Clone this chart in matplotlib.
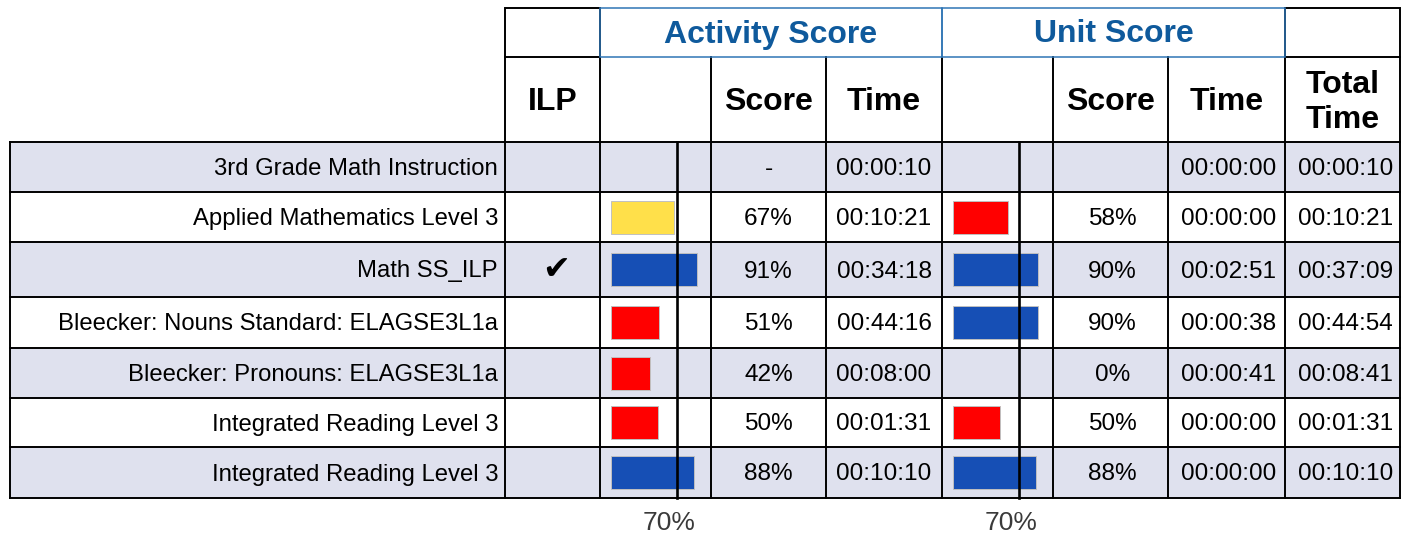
import matplotlib.pyplot as plt
from matplotlib.patches import Rectangle

plt.rcParams['font.family'] = ['Liberation Sans', 'DejaVu Sans']

# table data
names = ["3rd Grade Math Instruction", "Applied Mathematics Level 3", "Math SS_ILP",
         "Bleecker: Nouns Standard: ELAGSE3L1a", "Bleecker: Pronouns: ELAGSE3L1a",
         "Integrated Reading Level 3", "Integrated Reading Level 3"]
ilp = [False, False, True, False, False, False, False]
act_score = [None, 67, 91, 51, 42, 50, 88]
act_time = ["00:00:10", "00:10:21", "00:34:18", "00:44:16", "00:08:00", "00:01:31", "00:10:10"]
unit_score = [None, 58, 90, 90, 0, 50, 88]
unit_time = ["00:00:00", "00:00:00", "00:02:51", "00:00:38", "00:00:41", "00:00:00", "00:00:00"]
total_time = ["00:00:10", "00:10:21", "00:37:09", "00:44:54", "00:08:41", "00:01:31", "00:10:10"]
target = 70

# layout (pixels)
cols = [10, 505, 600, 711, 826, 942, 1053, 1168, 1285, 1400]
rows = [142, 192, 242, 297, 348, 398, 447, 498]
top, mid = 8, 57
px_per_pct = 0.94
shade = '#DFE1EE'
blue_txt = '#0F5A9C'
blue_line = '#2F75B5'
lw = 1.4
fs_name, fs_num, fs_head = 17.2, 17.6, 23


def bar_color(v):
    if v < 60:
        return '#FF0000'
    if v < 70:
        return '#FFE04A'
    return '#164FB5'


fig = plt.figure(figsize=(14.11, 5.35), dpi=100)
ax = fig.add_axes([0, 0, 1, 1])
ax.set_xlim(0, 1411)
ax.set_ylim(535, 0)
ax.axis('off')

# row shading
for i in range(len(names)):
    if i % 2 == 0:
        ax.add_patch(Rectangle((cols[0], rows[i]), cols[-1] - cols[0], rows[i + 1] - rows[i],
                               facecolor=shade, edgecolor='none', zorder=0))

# bars
centers = [(rows[i] + rows[i + 1]) / 2 for i in range(len(names))]
for start, scores in [(cols[2] + 11, act_score), (cols[5] + 11, unit_score)]:
    for yc, v in zip(centers, scores):
        if v:
            ax.barh(yc, v * px_per_pct, left=start, height=33, color=bar_color(v),
                    edgecolor='#C0C0C0', linewidth=0.7, zorder=2)
    xt = start + target * px_per_pct
    ax.plot([xt, xt], [rows[0], rows[-1]], color='black', lw=1.9, zorder=4)
    ax.text(xt - 8, 523, f"{target}%", ha='center', va='center', fontsize=19, color='#3A3A3A')

# grid lines of data rows
for y in rows:
    ax.plot([cols[0], cols[-1]], [y, y], color='black', lw=lw, zorder=3)
for x in cols:
    ax.plot([x, x], [rows[0], rows[-1]], color='black', lw=lw, zorder=3)
# header row 2
for x in cols[1:]:
    ax.plot([x, x], [mid, rows[0]], color='black', lw=lw, zorder=3)
# top header cells
for x0, x1 in [(cols[1], cols[2]), (cols[8], cols[9])]:
    ax.add_patch(Rectangle((x0, top), x1 - x0, mid - top, fill=False, edgecolor='black',
                           lw=lw, zorder=3))
for x0, x1 in [(cols[2], cols[5]), (cols[5], cols[8])]:
    ax.add_patch(Rectangle((x0, top), x1 - x0, mid - top, fill=False, edgecolor=blue_line,
                           lw=1.1, zorder=4))

# header text
hy = (mid + rows[0]) / 2 + 3
ax.text((cols[2] + cols[5]) / 2, (top + mid) / 2 + 2, "Activity Score", ha='center', va='center',
        fontsize=fs_head, fontweight='bold', color=blue_txt)
ax.text((cols[5] + cols[8]) / 2, (top + mid) / 2 + 2, "Unit Score", ha='center', va='center',
        fontsize=fs_head, fontweight='bold', color=blue_txt)
for ci, lab in [(1, "ILP"), (3, "Score"), (4, "Time"), (6, "Score"), (7, "Time"), (8, "Total\nTime")]:
    ax.text((cols[ci] + cols[ci + 1]) / 2, hy, lab, ha='center', va='center', fontsize=fs_head,
            fontweight='bold', linespacing=1.25)

# body text
for i, yc in enumerate(centers):
    yt = yc + 2
    ax.text(cols[1] - 7, yt, names[i], ha='right', va='center', fontsize=fs_name)
    if ilp[i]:
        ax.text((cols[1] + cols[2]) / 2 + 4, yc, "\u2714", ha='center', va='center',
                fontsize=24, family=['DejaVu Sans'])
    a = "-" if act_score[i] is None else f"{act_score[i]}%"
    u = "" if unit_score[i] is None else f"{unit_score[i]}%"
    ax.text((cols[3] + cols[4]) / 2, yt, a, ha='center', va='center', fontsize=fs_num)
    ax.text((cols[4] + cols[5]) / 2, yt, act_time[i], ha='center', va='center', fontsize=fs_num)
    ax.text((cols[6] + cols[7]) / 2 + 2, yt, u, ha='center', va='center', fontsize=fs_num)
    ax.text((cols[7] + cols[8]) / 2 + 2, yt, unit_time[i], ha='center', va='center', fontsize=fs_num)
    ax.text((cols[8] + cols[9]) / 2 + 3, yt, total_time[i], ha='center', va='center', fontsize=fs_num)

fig.savefig("out.png", dpi=100)
